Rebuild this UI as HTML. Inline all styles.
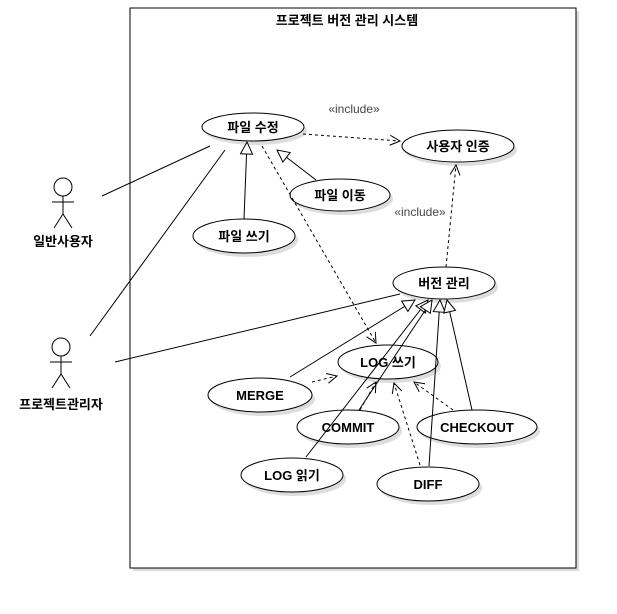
<!DOCTYPE html>
<html><head><meta charset="utf-8"><style>
html,body{margin:0;padding:0;background:#fff;}
svg text{font-family:"Liberation Sans","Noto Sans CJK KR",sans-serif;font-size:13px;font-weight:bold;fill:#000;}
</style></head><body>
<svg width="617" height="609" viewBox="0 0 617 609" xmlns="http://www.w3.org/2000/svg">
<defs>
<marker id="tri" markerWidth="14" markerHeight="14" refX="13" refY="7" orient="auto" markerUnits="userSpaceOnUse">
<path d="M1,1 L13,7 L1,13 Z" fill="#fff" stroke="#000" stroke-width="1"/></marker>
<marker id="open" markerWidth="12" markerHeight="12" refX="11" refY="6" orient="auto" markerUnits="userSpaceOnUse">
<path d="M1,1 L11,6 L1,11" fill="none" stroke="#000" stroke-width="1"/></marker>
</defs>
<rect x="133" y="11" width="446" height="560" fill="#ddd"/>
<rect x="130" y="8" width="446" height="560" fill="#fff" stroke="#000"/>
<text x="347" y="25" text-anchor="middle">프로젝트 버전 관리 시스템</text>

<g fill="#ddd">
<ellipse cx="256" cy="131" rx="51" ry="14"/><ellipse cx="461" cy="150" rx="56" ry="16"/>
<ellipse cx="343" cy="199" rx="50" ry="16"/><ellipse cx="247" cy="240" rx="51" ry="17"/>
<ellipse cx="447" cy="287" rx="51" ry="16"/><ellipse cx="391" cy="366" rx="50" ry="17"/>
<ellipse cx="263" cy="399" rx="52" ry="17"/><ellipse cx="351" cy="431" rx="51" ry="17"/>
<ellipse cx="480" cy="431" rx="60" ry="17"/><ellipse cx="295" cy="479" rx="51" ry="17"/>
<ellipse cx="431" cy="488" rx="51" ry="17"/>
</g>

<g fill="#fff" stroke="#000">
<ellipse cx="253" cy="127" rx="51" ry="14"/><ellipse cx="458" cy="146" rx="56" ry="16"/>
<ellipse cx="340" cy="195" rx="50" ry="16"/><ellipse cx="244" cy="236" rx="51" ry="17"/>
<ellipse cx="444" cy="283" rx="51" ry="16"/><ellipse cx="388" cy="362" rx="50" ry="17"/>
<ellipse cx="260" cy="395" rx="52" ry="17"/><ellipse cx="348" cy="427" rx="51" ry="17"/>
<ellipse cx="477" cy="427" rx="60" ry="17"/><ellipse cx="292" cy="475" rx="51" ry="17"/>
<ellipse cx="428" cy="484" rx="51" ry="17"/>
</g>

<g stroke="#000" fill="none" stroke-width="1">
<circle cx="63" cy="187" r="9"/><line x1="63" y1="196" x2="63" y2="214"/><line x1="52" y1="202" x2="74" y2="202"/>
<line x1="63" y1="214" x2="54" y2="228"/><line x1="63" y1="214" x2="72" y2="228"/>
<circle cx="61" cy="347" r="9"/><line x1="61" y1="356" x2="61" y2="374"/><line x1="50" y1="362" x2="72" y2="362"/>
<line x1="61" y1="374" x2="52" y2="388"/><line x1="61" y1="374" x2="70" y2="388"/>
<line x1="102" y1="196" x2="210" y2="146"/>
<line x1="90" y1="336" x2="225" y2="150"/>
<line x1="115" y1="362" x2="400" y2="294"/>
<line x1="244" y1="219" x2="247" y2="142" marker-end="url(#tri)"/>
<line x1="316" y1="180" x2="277" y2="150" marker-end="url(#tri)"/>
<line x1="290" y1="377" x2="415" y2="300" marker-end="url(#tri)"/>
<line x1="306" y1="457" x2="428" y2="300" marker-end="url(#tri)"/>
<line x1="359" y1="410" x2="432" y2="300" marker-end="url(#tri)"/>
<line x1="429" y1="466" x2="440" y2="300" marker-end="url(#tri)"/>
<line x1="472" y1="410" x2="447" y2="300" marker-end="url(#tri)"/>
<g stroke-dasharray="3,3">
<line x1="303" y1="134" x2="400" y2="141" marker-end="url(#open)"/>
<line x1="446" y1="267" x2="456" y2="165" marker-end="url(#open)"/>
<line x1="262" y1="146" x2="376" y2="343" marker-end="url(#open)"/>
<line x1="312" y1="382" x2="337" y2="376" marker-end="url(#open)"/>
<line x1="360" y1="410" x2="376" y2="382" marker-end="url(#open)"/>
<line x1="420" y1="465" x2="394" y2="383" marker-end="url(#open)"/>
<line x1="453" y1="410" x2="414" y2="382" marker-end="url(#open)"/>
</g>
</g>

<g text-anchor="middle">
<text x="253" y="132">파일 수정</text><text x="458" y="151">사용자 인증</text>
<text x="340" y="200">파일 이동</text><text x="244" y="241">파일 쓰기</text>
<text x="444" y="288">버전 관리</text><text x="388" y="367">LOG 쓰기</text>
<text x="260" y="400">MERGE</text><text x="348" y="432">COMMIT</text>
<text x="477" y="432">CHECKOUT</text><text x="292" y="480">LOG 읽기</text>
<text x="428" y="489">DIFF</text>
<text x="63" y="246">일반사용자</text><text x="61" y="409">프로젝트관리자</text>
<text x="354" y="113" style="font-weight:normal;font-size:12px;fill:#444">«include»</text>
<text x="420" y="216" style="font-weight:normal;font-size:12px;fill:#444">«include»</text>
</g>
</svg>
</body></html>
